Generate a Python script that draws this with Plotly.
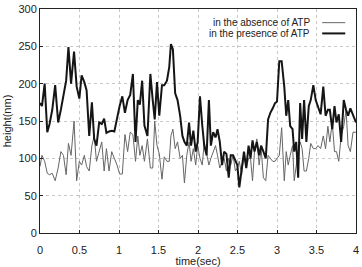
import plotly.graph_objects as go

time_s = [0.000, 0.025, 0.059, 0.092, 0.121, 0.155, 0.192, 0.230, 0.264, 0.297,
          0.331, 0.360, 0.393, 0.431, 0.464, 0.498, 0.527, 0.561, 0.590, 0.623,
          0.657, 0.686, 0.715, 0.749, 0.782, 0.812, 0.841, 0.874, 0.908, 0.941,
          0.975, 1.008, 1.042, 1.075, 1.109, 1.142, 1.176, 1.209, 1.238, 1.264,
          1.293, 1.322, 1.360, 1.397, 1.427, 1.452, 1.481, 1.510, 1.544, 1.573,
          1.607, 1.636, 1.657, 1.682, 1.711, 1.741, 1.774, 1.803, 1.828, 1.858,
          1.887, 1.912, 1.941, 1.971, 1.996, 2.025, 2.054, 2.079, 2.109, 2.138,
          2.163, 2.192, 2.222, 2.247, 2.276, 2.305, 2.331, 2.360, 2.389, 2.414,
          2.444, 2.473, 2.498, 2.523, 2.552, 2.582, 2.611, 2.640, 2.665, 2.690,
          2.715, 2.745, 2.774, 2.799, 2.828, 2.858, 2.887, 2.916, 2.946, 2.975,
          3.000, 3.029, 3.059, 3.092, 3.117, 3.142, 3.167, 3.197, 3.218, 3.243,
          3.268, 3.293, 3.318, 3.343, 3.372, 3.402, 3.427, 3.460, 3.490, 3.519,
          3.552, 3.586, 3.615, 3.644, 3.669, 3.699, 3.728, 3.753, 3.782, 3.812,
          3.845, 3.874, 3.900, 3.929, 3.962, 4.000]

presence_atp = [174, 170, 200, 135, 146, 165, 198, 148, 165, 183,
                204, 249, 200, 243, 196, 180, 211, 202, 191, 130,
                175, 126, 117, 148, 146, 153, 134, 136, 137, 136,
                154, 170, 183, 161, 178, 185, 213, 122, 178, 172,
                204, 144, 130, 213, 178, 152, 202, 157, 198, 198,
                204, 222, 253, 246, 187, 178, 157, 130, 122, 117,
                148, 117, 137, 109, 122, 183, 144, 117, 104, 178,
                117, 135, 128, 139, 122, 91, 109, 106, 74, 104,
                104, 96, 91, 61, 87, 109, 87, 117, 100, 124,
                109, 122, 104, 117, 109, 100, 152, 161, 167, 174,
                176, 230, 230, 196, 157, 178, 143, 139, 109, 122,
                74, 174, 126, 178, 122, 170, 178, 198, 178, 170,
                159, 196, 157, 165, 165, 139, 170, 148, 159, 122,
                178, 165, 157, 167, 157, 148]

absence_atp = [89, 104, 96, 80, 78, 80, 70, 87, 109, 104,
               78, 120, 104, 150, 70, 96, 91, 104, 89, 83,
               117, 130, 96, 109, 122, 83, 113, 83, 109, 100,
               91, 79, 79, 132, 109, 135, 132, 96, 130, 104,
               117, 96, 126, 87, 87, 150, 117, 106, 72, 102,
               96, 96, 130, 139, 113, 122, 100, 104, 67, 104,
               122, 96, 113, 91, 117, 100, 91, 122, 104, 91,
               100, 109, 117, 104, 87, 96, 100, 83, 100, 91,
               104, 83, 87, 96, 78, 104, 87, 100, 100, 70,
               109, 126, 91, 113, 74, 70, 104, 100, 96, 96,
               100, 104, 141, 70, 109, 91, 104, 117, 70, 91,
               109, 122, 113, 83, 83, 100, 120, 113, 113, 117,
               113, 130, 113, 143, 122, 148, 109, 109, 96, 130,
               143, 165, 117, 109, 135, 135]

x_ticks = [0, 0.5, 1, 1.5, 2, 2.5, 3, 3.5, 4]
x_tick_labels = ["0", "0.5", "1", "1.5", "2", "2.5", "3", "3.5", "4"]
y_ticks = [0, 50, 100, 150, 200, 250, 300]
legend_labels = ["in the absence of ATP", "in the presence of ATP"]

fig = go.Figure()
fig.add_trace(go.Scatter(x=time_s, y=absence_atp, mode="lines", name=legend_labels[0],
                         line=dict(color="#666666", width=1)))
fig.add_trace(go.Scatter(x=time_s, y=presence_atp, mode="lines", name=legend_labels[1],
                         line=dict(color="#151515", width=2)))

font = dict(family="Liberation Sans, Arial, sans-serif", size=11, color="#222222")

fig.update_layout(
    width=362, height=267,
    margin=dict(l=40, r=3, t=7, b=30),
    paper_bgcolor="white", plot_bgcolor="white",
    showlegend=False,
    font=font,
    xaxis=dict(range=[0, 4], tickvals=x_ticks, ticktext=x_tick_labels,
               showgrid=True, gridcolor="#c8c8c8", griddash="3px,3px", gridwidth=1,
               showline=True, linecolor="#222222", linewidth=1, mirror=True,
               ticks="inside", ticklen=3, tickcolor="#222222",
               ticklabelstandoff=7,
               zeroline=False,
               title=dict(text="time(sec)", standoff=0, font=dict(size=11))),
    yaxis=dict(range=[0, 300], tickvals=y_ticks,
               showgrid=True, gridcolor="#c8c8c8", griddash="3px,3px", gridwidth=1,
               showline=True, linecolor="#222222", linewidth=1, mirror=True,
               ticks="inside", ticklen=3, tickcolor="#222222",
               zeroline=False,
               title=dict(text="height(nm)", standoff=4, font=dict(size=11))),
)

# legend drawn gnuplot-style: text right-aligned, line sample to the right
legend_y = [0.939, 0.891]
legend_styles = [dict(color="#666666", width=1), dict(color="#151515", width=2)]
for label, yy, st in zip(legend_labels, legend_y, legend_styles):
    fig.add_annotation(xref="paper", yref="paper", x=0.862, y=yy, text=label,
                       showarrow=False, xanchor="right", yanchor="middle",
                       font=dict(size=10, color="#222222"))
    fig.add_shape(type="line", xref="paper", yref="paper", x0=0.893, x1=0.966,
                  y0=yy, y1=yy, line=st)

fig.write_html("out.html")
